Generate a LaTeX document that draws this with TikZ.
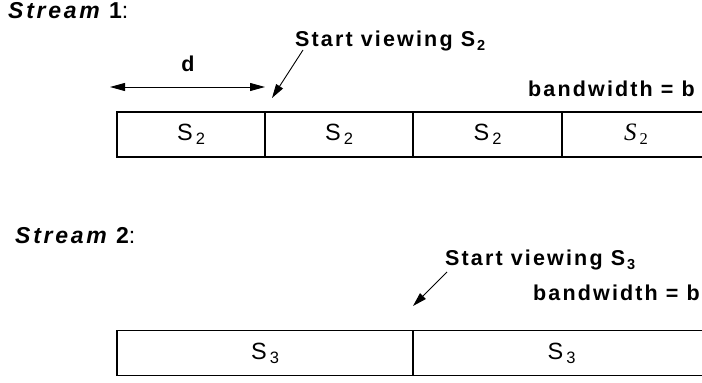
\documentclass[tikz,border=0pt]{standalone}
\usepackage{fontspec}
\setmainfont{Liberation Sans}
\newfontfamily\spacedsans[LetterSpace=10]{Liberation Sans}
\newfontfamily\widesans[LetterSpace=12]{Liberation Sans}
\newfontfamily\timesfont{Liberation Serif}
\usetikzlibrary{arrows.meta}
\tikzset{
  lbl/.style={inner sep=0pt, font=\spacedsans\bfseries\fontsize{21.5}{25}\selectfont},
  title/.style={inner sep=0pt, font=\widesans\bfseries\fontsize{23}{26}\selectfont},
  cell/.style={draw, line width=1.3pt, inner sep=0pt, minimum height=45pt,
               font=\fontsize{23.5}{26}\selectfont},
  pointer/.style={line width=0.9pt, -{Triangle[length=14pt,width=8pt]}},
  span/.style={line width=0.9pt, {Triangle[length=15pt,width=8pt]}-{Triangle[length=15pt,width=8pt]}},
}
% subscripts: small one for bold labels, larger one inside the cells
\newcommand\lsub[1]{\kern2pt\raisebox{-4pt}{\fontsize{14.5}{15}\selectfont #1}}
\newcommand\csub[1]{\kern3pt\raisebox{-4pt}{\fontsize{16.5}{17}\selectfont #1}}
\begin{document}
\begin{tikzpicture}[x=1pt,y=-1pt]
\useasboundingbox (0,0) rectangle (702,383);
\clip (0,0) rectangle (702,383);

% ---- Stream 1 ----
\node[title, anchor=base west] (st1) at (8,18)
  {{\itshape Stream}\ 1{\mdseries:}};
\node[lbl, anchor=base] (dl) at (188,71) {d};
\coordinate (dL) at (110,87);
\coordinate (dR) at (265,87);
\draw[span] (dL) -- (dR);

\node[lbl, anchor=base west] (sv2) at (295,46) {Start viewing S\lsub{2}};
\coordinate (p1) at (303,50);
\coordinate (t1) at (272,98);
\draw[pointer] (p1) -- (t1);

\node[lbl, anchor=base east] (bw1) at (695,96) {bandwidth = b};

\node[cell, minimum width=148pt] (a1) at (191,134.5) {S\csub{2}};
\node[cell, minimum width=148pt] (a2) at (339,134.5) {S\csub{2}};
\node[cell, minimum width=149pt] (a3) at (487.5,134.5) {S\csub{2}};
\node[cell, minimum width=148pt] (a4) at (636,134.5)
  {\timesfont\fontsize{25}{27}\selectfont\itshape S\upshape\csub{2}};

% ---- Stream 2 ----
\node[title, anchor=base west] (st2) at (15,243)
  {{\itshape Stream}\ 2{\mdseries:}};

\node[lbl, anchor=base west] (sv3) at (445,265) {Start viewing S\lsub{3}};
\coordinate (p2) at (447,272);
\coordinate (t2) at (413,306);
\draw[pointer] (p2) -- (t2);

\node[lbl, anchor=base east] (bw2) at (700,300) {bandwidth = b};

\node[cell, minimum width=296pt] (b1) at (265,353) {S\csub{3}};
\node[cell, minimum width=297pt] (b2) at (561.5,353) {S\csub{3}};
\end{tikzpicture}
\end{document}
